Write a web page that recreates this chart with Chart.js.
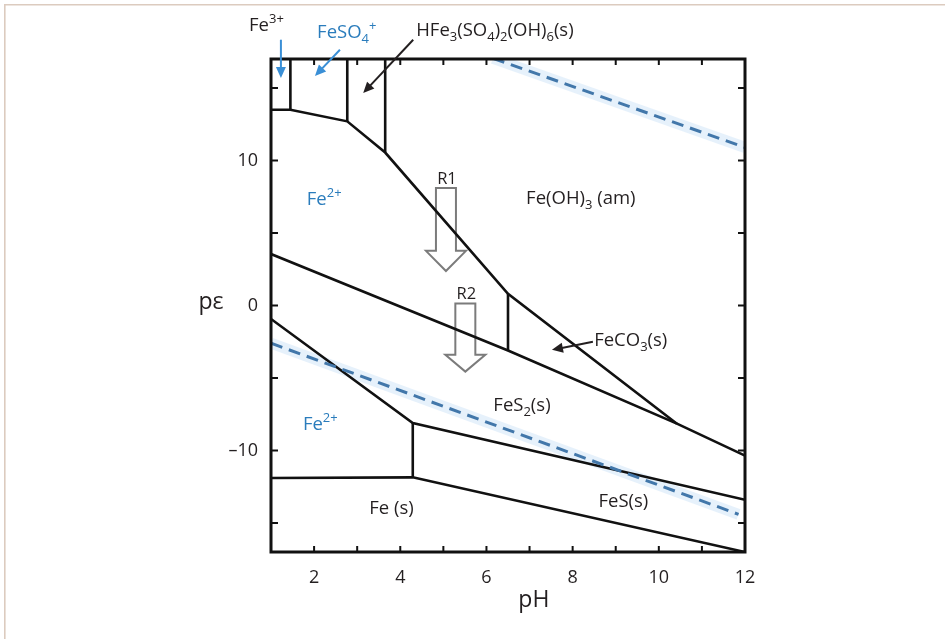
<!DOCTYPE html>
<html>
<head>
<meta charset="utf-8">
<script src="https://cdn.jsdelivr.net/npm/chart.js@4.4.0/dist/chart.umd.min.js"></script>
<style>
  html, body { margin: 0; padding: 0; background: #fff; }
</style>
</head>
<body>
<canvas id="pourbaix" width="945" height="639"></canvas>
<script>
// axis ticks
const xTicks = [2, 4, 6, 8, 10, 12]
const yTicks = [-10, 0, 10]

// stability boundaries, [pH, pe]
const upperBoundary = [[1, 13.5], [1.45, 13.5], [2.77, 12.7], [3.65, 10.55], [6.5, 0.8], [10.42, -8.15]]
const fe3Wall = [[1.45, 17], [1.45, 13.5]]
const feso4Wall = [[2.77, 17], [2.77, 12.7]]
const jarositeWall = [[3.65, 17], [3.65, 10.55]]
const pyriteUpper = [[1, 3.55], [6.5, -3.1], [10.42, -8.15], [12, -10.35]]
const carbonateWall = [[6.5, 0.8], [6.5, -3.1]]
const pyriteLower = [[1, -0.93], [4.29, -8.1], [12, -13.4]]
const feSWall = [[4.29, -8.1], [4.29, -11.85]]
const ironEdge = [[1, -11.9], [4.29, -11.85], [12, -17]]

// water stability limits (dashed)
const waterUpper = [[6.15, 17.05], [12, 10.9]]
const waterLower = [[1, -2.6], [11.85, -14.4]]

const solidLines = [upperBoundary, fe3Wall, feso4Wall, jarositeWall, pyriteUpper, carbonateWall, pyriteLower, feSWall, ironEdge]
const dashedLines = [waterUpper, waterLower]

const ink = "#231f20"
const blue = "#2a7cbc"
const font = "'Open Sans', 'Noto Sans', sans-serif"

// region labels: parts are [text, 0 normal | -1 sub | 1 sup]
const regionLabels = [
  { parts: [["Fe", 0], ["3+", 1]], at: [0.49, 18.96], color: ink },
  { parts: [["FeSO", 0], ["4", -1], ["+", 1]], at: [2.07, 18.47], color: blue },
  { parts: [["HFe", 0], ["3", -1], ["(SO", 0], ["4", -1], [")", 0], ["2", -1], ["(OH)", 0], ["6", -1], ["(s)", 0]], at: [4.37, 18.6], color: ink },
  { parts: [["Fe(OH)", 0], ["3", -1], [" (am)", 0]], at: [6.92, 7.01], color: ink },
  { parts: [["Fe", 0], ["2+", 1]], at: [1.83, 6.94], color: blue },
  { parts: [["FeCO", 0], ["3", -1], ["(s)", 0]], at: [8.5, -2.78], color: ink },
  { parts: [["FeS", 0], ["2", -1], ["(s)", 0]], at: [6.16, -7.27], color: ink },
  { parts: [["Fe", 0], ["2+", 1]], at: [1.74, -8.56], color: blue },
  { parts: [["FeS(s)", 0]], at: [8.6, -13.9], color: ink },
  { parts: [["Fe (s)", 0]], at: [3.28, -14.4], color: ink },
]

const pointerArrows = [
  { from: [1.23, 18.33], to: [1.23, 15.69], color: "#3a8fd6" },
  { from: [2.6, 17.64], to: [2.02, 15.83], color: "#3a8fd6" },
  { from: [4.3, 18.33], to: [3.14, 14.65], color: ink },
  { from: [8.47, -2.5], to: [7.52, -3.06], color: ink },
]

const reactionArrows = [
  { name: "R1", x: 5.06, top: 8.1, neck: 3.77, tip: 2.38, label: 8.35 },
  { name: "R2", x: 5.51, top: 0.14, neck: -3.4, tip: -4.56, label: 0.47 },
]

const toXY = pts => pts.map(([x, y]) => ({ x, y }))

function drawRich(ctx, x, y, parts, size, color) {
  ctx.fillStyle = color
  ctx.textAlign = "left"
  ctx.textBaseline = "alphabetic"
  let cx = x
  for (const [txt, pos] of parts) {
    const s = pos === 0 ? size : Math.round(size * 0.7)
    ctx.font = `${s}px ${font}`
    const dy = pos === -1 ? size * 0.28 : pos === 1 ? -size * 0.4 : 0
    ctx.fillText(txt, cx, y + dy)
    cx += ctx.measureText(txt).width
  }
}

function drawPointer(ctx, x1, y1, x2, y2, color) {
  const a = Math.atan2(y2 - y1, x2 - x1)
  const len = 11, half = 5
  ctx.strokeStyle = color
  ctx.fillStyle = color
  ctx.lineWidth = 2
  ctx.beginPath()
  ctx.moveTo(x1, y1)
  ctx.lineTo(x2 - Math.cos(a) * len * 0.8, y2 - Math.sin(a) * len * 0.8)
  ctx.stroke()
  ctx.beginPath()
  ctx.moveTo(x2, y2)
  ctx.lineTo(x2 - Math.cos(a) * len - Math.sin(a) * half, y2 - Math.sin(a) * len + Math.cos(a) * half)
  ctx.lineTo(x2 - Math.cos(a) * len + Math.sin(a) * half, y2 - Math.sin(a) * len - Math.cos(a) * half)
  ctx.closePath()
  ctx.fill()
}

const decor = {
  id: "decor",
  beforeDraw(chart) {
    const ctx = chart.ctx
    ctx.save()
    ctx.fillStyle = "#fff"
    ctx.fillRect(0, 0, chart.width, chart.height)
    ctx.strokeStyle = "#dccbbf"
    ctx.lineWidth = 1.6
    ctx.beginPath()
    ctx.moveTo(4.8, chart.height)
    ctx.lineTo(4.8, 4.8)
    ctx.lineTo(chart.width, 4.8)
    ctx.stroke()
    ctx.restore()
  },
  beforeDatasetsDraw(chart) {
    const { ctx, scales: { x, y } } = chart
    ctx.save()
    ctx.strokeStyle = "#7b7b7b"
    ctx.lineWidth = 2
    ctx.lineJoin = "miter"
    for (const r of reactionArrows) {
      const cx = x.getPixelForValue(r.x)
      const t = y.getPixelForValue(r.top), n = y.getPixelForValue(r.neck), p = y.getPixelForValue(r.tip)
      ctx.beginPath()
      ctx.moveTo(cx - 10, t)
      ctx.lineTo(cx + 10, t)
      ctx.lineTo(cx + 10, n)
      ctx.lineTo(cx + 20, n)
      ctx.lineTo(cx, p)
      ctx.lineTo(cx - 20, n)
      ctx.lineTo(cx - 10, n)
      ctx.closePath()
      ctx.stroke()
      ctx.fillStyle = ink
      ctx.font = `16.5px ${font}`
      ctx.textAlign = "center"
      ctx.textBaseline = "alphabetic"
      ctx.fillText(r.name, cx + 1, y.getPixelForValue(r.label))
    }
    ctx.restore()
  },
  afterDatasetsDraw(chart) {
    const { ctx, chartArea: a, scales: { x, y } } = chart
    ctx.save()
    // frame
    ctx.strokeStyle = "#111"
    ctx.lineWidth = 3
    ctx.strokeRect(a.left, a.top, a.right - a.left, a.bottom - a.top)
    // inward ticks
    ctx.lineWidth = 2
    ctx.beginPath()
    for (let v = 2; v < 12; v++) {
      const px = x.getPixelForValue(v)
      ctx.moveTo(px, a.bottom); ctx.lineTo(px, a.bottom - 6)
      ctx.moveTo(px, a.top); ctx.lineTo(px, a.top + 6)
    }
    for (let v = -15; v <= 15; v += 5) {
      const py = y.getPixelForValue(v)
      ctx.moveTo(a.left, py); ctx.lineTo(a.left + 7, py)
      ctx.moveTo(a.right, py); ctx.lineTo(a.right - 7, py)
    }
    ctx.stroke()
    // labels
    for (const l of regionLabels) {
      drawRich(ctx, x.getPixelForValue(l.at[0]), y.getPixelForValue(l.at[1]), l.parts, 18.5, l.color)
    }
    for (const p of pointerArrows) {
      drawPointer(ctx, x.getPixelForValue(p.from[0]), y.getPixelForValue(p.from[1]),
        x.getPixelForValue(p.to[0]), y.getPixelForValue(p.to[1]), p.color)
    }
    // axis titles
    ctx.fillStyle = ink
    ctx.font = `23px ${font}`
    ctx.textAlign = "center"
    ctx.textBaseline = "alphabetic"
    ctx.fillText("pH", x.getPixelForValue(7.1), a.bottom + 55)
    ctx.fillText("pε", a.left - 60, y.getPixelForValue(0) + 3)
    ctx.restore()
  },
}

const lineBase = { showLine: true, pointRadius: 0, fill: false, tension: 0 }

new Chart(document.getElementById("pourbaix"), {
  type: "scatter",
  data: {
    datasets: [
      ...dashedLines.map(pts => ({ ...lineBase, data: toXY(pts), borderColor: "rgba(200,225,246,0.45)", borderWidth: 11, order: 3 })),
      ...solidLines.map(pts => ({ ...lineBase, data: toXY(pts), borderColor: "#111", borderWidth: 2.6, borderJoinStyle: "miter", order: 2 })),
      ...dashedLines.map(pts => ({ ...lineBase, data: toXY(pts), borderColor: "#4277aa", borderWidth: 3, borderDash: [12, 7], order: 1 })),
    ],
  },
  options: {
    responsive: false,
    animation: false,
    devicePixelRatio: 1,
    layout: { padding: { top: 59, right: 200, left: 0, bottom: 0 } },
    plugins: { legend: { display: false }, tooltip: { enabled: false } },
    scales: {
      x: {
        type: "linear", min: 1, max: 12,
        afterBuildTicks: s => { s.ticks = xTicks.map(value => ({ value })) },
        afterFit: s => { s.height = 87 },
        grid: { display: false, drawTicks: false },
        border: { display: false },
        ticks: { font: { family: font, size: 18 }, color: ink, padding: 15, maxRotation: 0 },
      },
      y: {
        type: "linear", min: -17, max: 17,
        afterBuildTicks: s => { s.ticks = yTicks.map(value => ({ value })) },
        afterFit: s => { s.width = 271 },
        grid: { display: false, drawTicks: false },
        border: { display: false },
        ticks: {
          font: { family: font, size: 18 }, color: ink, padding: 13,
          callback: v => (v < 0 ? "\u2013" + Math.abs(v) : String(v)),
        },
      },
    },
  },
  plugins: [decor],
})
</script>
</body>
</html>
